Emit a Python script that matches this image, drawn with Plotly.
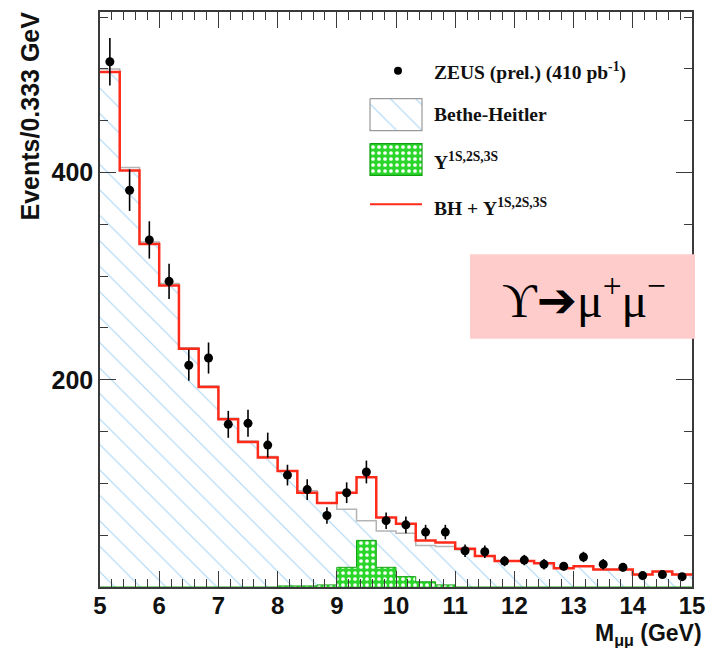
import numpy as np
import plotly.graph_objects as go

# ---------------- data ----------------
mass_range = [5.0, 15.0]          # GeV, 30 bins of 0.333 GeV
n_bins = 30
data_counts = [507, 383, 335, 295, 214, 221, 157, 158, 137, 108,
               94, 69, 91, 111, 64, 60, 53, 53, 35, 34,
               25, 26, 22, 20, 29, 22, 19, 11, 12, 10]
data_errors = [23, 20, 18, 17, 15, 15, 13, 13, 12, 10,
               10, 8, 10, 11, 8, 8, 7, 7, 6, 6,
               5, 5, 5, 4, 5, 5, 4, 3, 3, 3]
bethe_heitler = [500, 405, 333, 293, 231, 194, 163, 141, 126, 112,
                 93, 81, 75, 64, 54, 52, 40, 39, 36, 30,
                 25, 25, 23, 18, 20, 17, 17, 12, 15, 12]
upsilon = [0, 0, 0, 0, 0, 0, 0, 0, 0, 1,
           1, 2, 19, 45, 19, 10, 5, 2, 0, 0,
           0, 0, 0, 0, 0, 0, 0, 0, 0, 0]
bh_plus_upsilon = [497, 402, 331, 291, 230, 193, 162, 140, 125, 112,
                   91, 81, 91, 106, 67, 61, 45, 43, 37, 30,
                   25, 25, 23, 18, 20, 17, 17, 12, 15, 12]
x_tick_labels = ["5", "6", "7", "8", "9", "10", "11", "12", "13", "14", "15"]
y_tick_values = [200, 400]

edges = np.linspace(mass_range[0], mass_range[1], n_bins + 1)
centers = 0.5 * (edges[:-1] + edges[1:])


def step(vals):
    return list(vals) + [vals[-1]]


SANS = "Liberation Sans"
SERIF = "Liberation Serif"
HATCH = "#a9d6f5"
GREEN = "#2bd62b"

fig = go.Figure()

# Bethe-Heitler (hatched)
fig.add_trace(go.Scatter(
    x=edges, y=step(bethe_heitler), mode="lines", line_shape="hv",
    line=dict(color="#b4b4b4", width=1.5),
    fill="tozeroy", fillcolor="white",
    fillpattern=dict(shape="\\", fgcolor=HATCH, bgcolor="white",
                     size=18, solidity=0.06, fillmode="replace"),
    showlegend=False))

# Upsilon 1S,2S,3S (green dotted)
fig.add_trace(go.Scatter(
    x=edges, y=step(upsilon), mode="lines", line_shape="hv",
    line=dict(color="#12a012", width=1),
    fill="tozeroy", fillcolor=GREEN,
    fillpattern=dict(shape=".", fgcolor="white", bgcolor=GREEN,
                     size=6, solidity=0.3, fillmode="replace"),
    showlegend=False))

# BH + Upsilon (red)
fig.add_trace(go.Scatter(
    x=edges, y=step(bh_plus_upsilon), mode="lines", line_shape="hv",
    line=dict(color="#ff2a1a", width=2.5), showlegend=False))

# ZEUS data
fig.add_trace(go.Scatter(
    x=centers, y=data_counts, mode="markers",
    marker=dict(color="black", size=9),
    error_y=dict(type="data", array=data_errors, color="black",
                 thickness=1.6, width=0),
    showlegend=False))

# ---------- legend drawn in pixel space on hidden overlay axes ----------
px_left, px_right, px_top, px_bot = 100, 692, 10, 587
pw, ph = px_right - px_left, px_bot - px_top


def paper_x(px):
    return (px - px_left) / pw


def paper_y(py):
    return (px_bot - py) / ph


fig.add_trace(go.Scatter(  # dot
    x=[398], y=[69], mode="markers", marker=dict(color="black", size=8),
    xaxis="x2", yaxis="y2", showlegend=False, hoverinfo="skip"))
fig.add_trace(go.Scatter(  # hatched box
    x=[370, 422, 422, 370, 370], y=[97, 97, 129, 129, 97], mode="lines",
    line=dict(color="#9a9a9a", width=1.2), fill="toself", fillcolor="white",
    fillpattern=dict(shape="\\", fgcolor=HATCH, bgcolor="white",
                     size=18, solidity=0.06, fillmode="replace"),
    xaxis="x2", yaxis="y2", showlegend=False, hoverinfo="skip"))
fig.add_trace(go.Scatter(  # green box
    x=[370, 422, 422, 370, 370], y=[142, 142, 174, 174, 142], mode="lines",
    line=dict(color="#12a012", width=1.2), fill="toself", fillcolor=GREEN,
    fillpattern=dict(shape=".", fgcolor="white", bgcolor=GREEN,
                     size=6, solidity=0.3, fillmode="replace"),
    xaxis="x2", yaxis="y2", showlegend=False, hoverinfo="skip"))
fig.add_trace(go.Scatter(  # red line
    x=[370, 422], y=[203, 203], mode="lines",
    line=dict(color="#ff2a1a", width=2),
    xaxis="x2", yaxis="y2", showlegend=False, hoverinfo="skip"))

leg_font = dict(family=SERIF, size=19.5, color="#111", weight="bold")
legend_texts = [
    ("ZEUS (prel.) (410 pb<sup>-1</sup>)", 70),
    ("Bethe-Heitler", 113),
    ("Υ<sup>1S,2S,3S</sup>", 160),
    ("BH + Υ<sup>1S,2S,3S</sup>", 206),
]
for txt, ypx in legend_texts:
    fig.add_annotation(x=paper_x(432), y=paper_y(ypx), xref="paper", yref="paper",
                       text=txt, showarrow=False, xanchor="left", yanchor="middle",
                       font=leg_font)

# pink box
fig.add_shape(type="rect", xref="paper", yref="paper",
              x0=paper_x(470), x1=paper_x(695), y0=paper_y(338), y1=paper_y(253),
              fillcolor="#ffcccc", line=dict(width=0), layer="above")
fig.add_annotation(x=paper_x(584), y=paper_y(296), xref="paper", yref="paper",
                   text="ϒ<span style='font-family:DejaVu Sans'>➔</span>μ<sup>+</sup>μ<sup>−</sup>",
                   showarrow=False, xanchor="center", yanchor="middle",
                   font=dict(family=SERIF, size=48, color="black"))

# axis titles
fig.add_annotation(x=paper_x(30), y=paper_y(8), xref="paper", yref="paper",
                   text="Events/0.333 GeV",
                   textangle=-90, showarrow=False, xanchor="center", yanchor="top",
                   font=dict(family=SANS, size=25, color="#111", weight="bold"))
fig.add_annotation(x=paper_x(704), y=paper_y(651), xref="paper", yref="paper",
                   text="M<sub>μμ</sub> (GeV)",
                   showarrow=False, xanchor="right", yanchor="bottom",
                   font=dict(family=SANS, size=23, color="#111", weight="bold"))

axis_common = dict(showgrid=False, zeroline=False, showline=True,
                   linecolor="#3a3a3a", linewidth=1.5, mirror="ticks",
                   ticks="inside", tickcolor="#3a3a3a", tickwidth=1)

fig.update_layout(
    width=720, height=648,
    margin=dict(l=px_left, r=720 - px_right, t=px_top, b=648 - px_bot),
    paper_bgcolor="white", plot_bgcolor="rgba(0,0,0,0)",
    showlegend=False,
    xaxis=dict(range=mass_range, tickmode="array",
               tickvals=[float(t) for t in x_tick_labels], ticktext=x_tick_labels,
               ticklen=16, ticklabelstandoff=-4,
               tickfont=dict(family=SANS, size=24, color="#111", weight="bold"),
               minor=dict(tickmode="linear", tick0=5, dtick=0.2, ticklen=8,
                          ticks="inside", tickcolor="#3a3a3a", tickwidth=1),
               **axis_common),
    yaxis=dict(range=[0, 555], tickmode="array", tickvals=y_tick_values,
               ticktext=[str(v) for v in y_tick_values], ticklen=16,
               tickfont=dict(family=SANS, size=25, color="#111", weight="bold"),
               minor=dict(tickmode="linear", tick0=0, dtick=50, ticklen=8,
                          ticks="inside", tickcolor="#3a3a3a", tickwidth=1),
               **axis_common),
    xaxis2=dict(overlaying="x", range=[px_left, px_right], visible=False),
    yaxis2=dict(overlaying="y", range=[px_bot, px_top], visible=False),
)

fig.write_html("out.html")
